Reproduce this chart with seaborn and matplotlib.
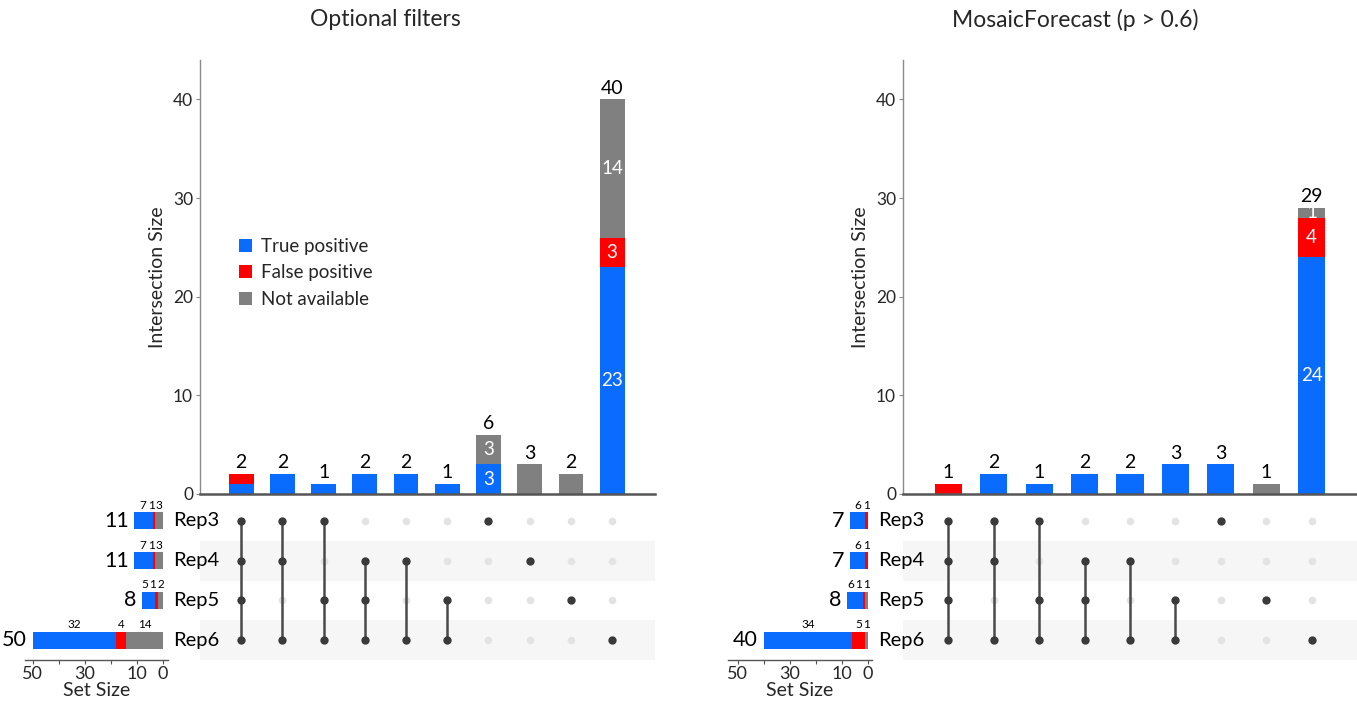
import numpy as np
import pandas as pd
import matplotlib
matplotlib.use("Agg")
import matplotlib.pyplot as plt
from matplotlib.patches import Patch
import matplotlib.transforms as mtransforms
import seaborn as sns

# ---------------- data ----------------
sets = ["Rep3", "Rep4", "Rep5", "Rep6"]
categories = ["True positive", "False positive", "Not available"]

# Panel 1: Optional filters
p1_title = "Optional filters"
p1_members = [[0, 1, 2, 3], [0, 1, 3], [0, 2, 3], [1, 2, 3], [1, 3], [2, 3], [0], [1], [2], [3]]
p1_tp = [1, 2, 1, 2, 2, 1, 3, 0, 0, 23]
p1_fp = [1, 0, 0, 0, 0, 0, 0, 0, 0, 3]
p1_na = [0, 0, 0, 0, 0, 0, 3, 3, 2, 14]
p1_set_tp = [7, 7, 5, 32]
p1_set_fp = [1, 1, 1, 4]
p1_set_na = [3, 3, 2, 14]

# Panel 2: MosaicForecast (p > 0.6)
p2_title = "MosaicForecast (p > 0.6)"
p2_members = [[0, 1, 2, 3], [0, 1, 3], [0, 2, 3], [1, 2, 3], [1, 3], [2, 3], [0], [2], [3]]
p2_tp = [0, 2, 1, 2, 2, 3, 3, 0, 24]
p2_fp = [1, 0, 0, 0, 0, 0, 0, 0, 4]
p2_na = [0, 0, 0, 0, 0, 0, 0, 1, 1]
p2_set_tp = [6, 6, 6, 34]
p2_set_fp = [1, 1, 1, 5]
p2_set_na = [0, 0, 1, 1]

yticks = [0, 10, 20, 30, 40]
set_ticks = [50, 40, 30, 20, 10, 0]
set_ticklabels = ["50", "", "30", "", "10", "0"]

# ---------------- style ----------------
sns.set_style("white")
plt.rcParams["font.family"] = ["Lato", "DejaVu Sans"]

BLUE = "#0a6cff"
RED = "#ff0000"
GRAY = "#808080"
DOT = "#3a3a3a"
DOT_OFF = "#e3e3e3"
SHADE = "#f6f6f6"

W, H = 1357, 706
fig = plt.figure(figsize=(W / 100, H / 100), dpi=100)
PX_PER_UNIT = 2.61


def fx(px):
    return px / W


def fy(py):
    return 1 - py / H


def panel(title, title_x, members, tp, fp, na, stp, sfp, sna,
          bar_l, bar_r, set_l, set_r, set_zero_px, label_x):
    n = len(members)
    top_px, base_px, mat_bot = 60, 494, 660
    axb = fig.add_axes([fx(bar_l), fy(base_px), fx(bar_r - bar_l), (base_px - top_px) / H])
    axm = fig.add_axes([fx(bar_l), fy(mat_bot), fx(bar_r - bar_l), (mat_bot - 501) / H])
    axs = fig.add_axes([fx(set_l), fy(mat_bot), fx(set_r - set_l), (mat_bot - 501) / H])

    tp = np.array(tp); fp = np.array(fp); na = np.array(na)
    tot = tp + fp + na
    df = pd.DataFrame({"x": np.arange(n), "tot": tot, "tpfp": tp + fp, "tp": tp})
    for col, c in [("tot", GRAY), ("tpfp", RED), ("tp", BLUE)]:
        sns.barplot(data=df, x="x", y=col, color=c, saturation=1, width=0.6,
                    linewidth=0, native_scale=True, ax=axb)
    axb.set_xlim(-1, (n - 1) + (1.0 if n == 9 else 1.04))
    axb.set_ylim(0, 44)
    axb.set_yticks(yticks)
    axb.set_yticklabels([str(t) for t in yticks], fontsize=12.5)
    axb.set_xticks([])
    axb.set_xlabel("")
    axb.set_ylabel("Intersection Size", fontsize=14, labelpad=5)
    for s in ["top", "right"]:
        axb.spines[s].set_visible(False)
    axb.spines["left"].set_color("#8a8a8a")
    axb.spines["left"].set_linewidth(1.0)
    axb.spines["bottom"].set_color("#555555")
    axb.spines["bottom"].set_linewidth(1.8)
    axb.tick_params(axis="y", length=3, width=0.8, color="#8a8a8a", pad=2, left=True)
    for i in range(n):
        axb.annotate(str(tot[i]), (i, tot[i]), xytext=(0, 2), textcoords="offset points",
                     ha="center", va="bottom", fontsize=14, color="black")
        if tot[i] >= 5:
            b = 0
            for v in (tp[i], fp[i], na[i]):
                if v > 0:
                    axb.text(i, b + v / 2, str(v), ha="center", va="center",
                             fontsize=13.5, color="white")
                b += v

    # matrix
    axm.set_xlim(axb.get_xlim())
    axm.set_ylim(3.5, -0.5)
    for r in (1, 3):
        axm.axhspan(r - 0.5, r + 0.5, color=SHADE, zorder=0, lw=0)
    grid = pd.DataFrame([(i, r, r in members[i]) for i in range(n) for r in range(4)],
                        columns=["col", "row", "on"])
    sns.scatterplot(data=grid[~grid.on], x="col", y="row", color=DOT_OFF, s=30,
                    linewidth=0, ax=axm, zorder=2, legend=False)
    for i, m in enumerate(members):
        if len(m) > 1:
            axm.plot([i, i], [min(m), max(m)], color="#4a4a4a", lw=1.8, zorder=3)
    sns.scatterplot(data=grid[grid.on], x="col", y="row", color=DOT, s=36,
                    linewidth=0, ax=axm, zorder=4, legend=False)
    axm.set_xlim(axb.get_xlim())
    axm.set_ylim(3.5, -0.5)
    axm.axis("off")

    tr = mtransforms.blended_transform_factory(fig.transFigure, axm.transData)
    for r, name in enumerate(sets):
        axm.text(fx(label_x), r, name, transform=tr, ha="left", va="center",
                 fontsize=14.5, color="black", clip_on=False)

    # set size bars
    stp = np.array(stp); sfp = np.array(sfp); sna = np.array(sna)
    stot = stp + sfp + sna
    sdf = pd.DataFrame({"row": np.arange(4), "tot": stot, "nafp": sna + sfp, "na": sna})
    for col, c in [("tot", BLUE), ("nafp", RED), ("na", GRAY)]:
        sns.barplot(data=sdf, y="row", x=col, orient="h", color=c, saturation=1,
                    width=0.43, linewidth=0, native_scale=True, ax=axs)
    left_val = (set_zero_px - set_l) / PX_PER_UNIT
    right_val = (set_zero_px - set_r) / PX_PER_UNIT
    axs.set_xlim(left_val, right_val)
    axs.set_ylim(3.5, -0.5)
    axs.set_yticks([])
    axs.set_ylabel("")
    axs.set_xticks(set_ticks)
    axs.set_xticklabels(set_ticklabels, fontsize=13)
    axs.set_xlabel("Set Size", fontsize=14, labelpad=0)
    for s in ["top", "right", "left"]:
        axs.spines[s].set_visible(False)
    axs.spines["bottom"].set_color("#555555")
    axs.spines["bottom"].set_linewidth(1.0)
    axs.tick_params(axis="x", length=3, width=0.8, color="#555555", pad=1, bottom=True)
    min_gap = 8.0 / PX_PER_UNIT
    for r in range(4):
        axs.annotate(str(stot[r]), (stot[r], r), xytext=(-4, 0), textcoords="offset points",
                     ha="right", va="center", fontsize=15.5, color="black")
        b = 0
        prev = None
        for v in (sna[r], sfp[r], stp[r]):
            if v > 0:
                pos = b + v / 2
                if prev is not None:
                    pos = max(pos, prev + min_gap)
                axs.annotate(str(v), (pos, r - 0.215), xytext=(0, 1),
                             textcoords="offset points", ha="center", va="bottom",
                             fontsize=8.5, color="black")
                prev = pos
            b += v

    fig.text(fx(title_x), fy(20), title, ha="center", va="center", fontsize=16.5)
    return axb


axb1 = panel(p1_title, 385, p1_members, p1_tp, p1_fp, p1_na,
             p1_set_tp, p1_set_fp, p1_set_na,
             bar_l=200, bar_r=655, set_l=25, set_r=168, set_zero_px=163, label_x=173)
axb2 = panel(p2_title, 1075, p2_members, p2_tp, p2_fp, p2_na,
             p2_set_tp, p2_set_fp, p2_set_na,
             bar_l=903, bar_r=1357, set_l=728, set_r=872, set_zero_px=868, label_x=878)

handles = [Patch(facecolor=c, edgecolor="none") for c in (BLUE, RED, GRAY)]
axb1.legend(handles, categories, loc="upper left", bbox_to_anchor=(0.085, 0.59),
            frameon=False, fontsize=13.5, handlelength=0.7, handleheight=0.7,
            handletextpad=0.5, labelspacing=0.5, borderpad=0, borderaxespad=0)

fig.savefig("out.png", dpi=100)
